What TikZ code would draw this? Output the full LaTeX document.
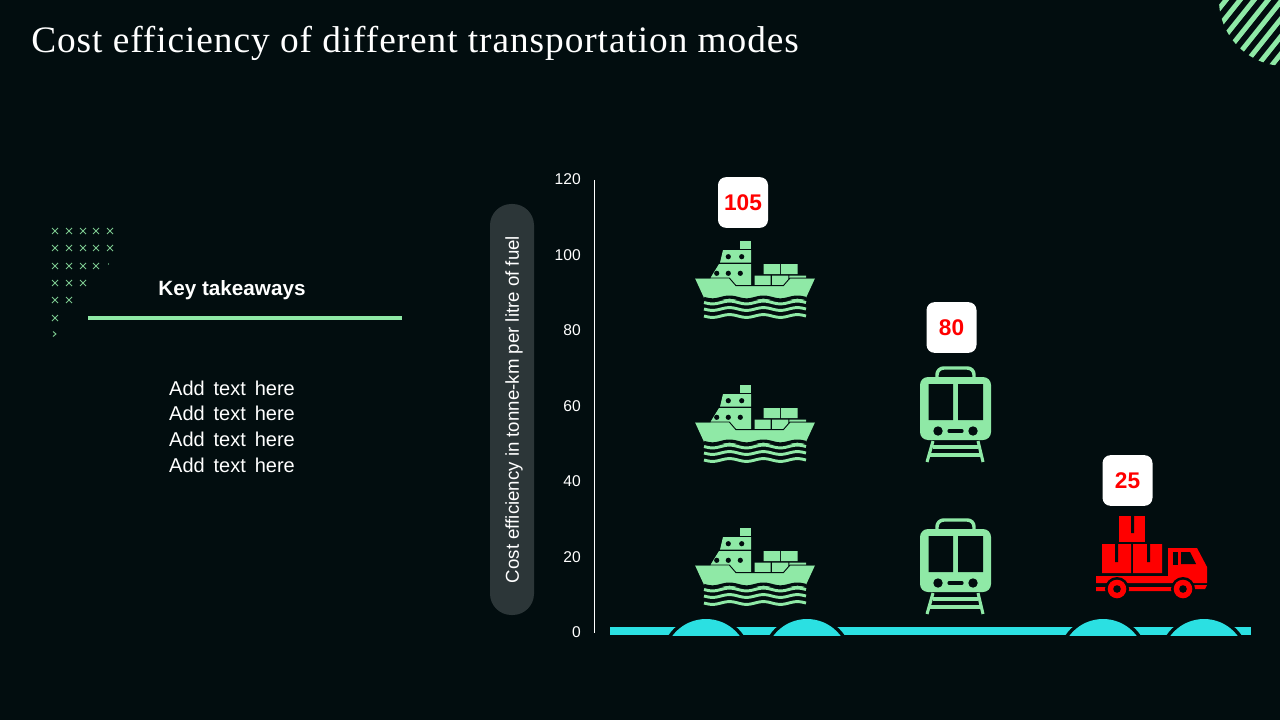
\documentclass[tikz,border=0pt]{standalone}
\usepackage{fontspec}
\setmainfont{Liberation Sans}
\newfontfamily\titlefont[LetterSpace=2.5]{Liberation Serif}
\newfontfamily\addfont[WordSpace=1.6]{Liberation Sans}
\usetikzlibrary{calc}
\definecolor{bgdark}{HTML}{020D0F}
\definecolor{mint}{HTML}{8FE9A6}
\definecolor{pillgrey}{HTML}{2C3638}
\definecolor{bandcyan}{HTML}{2BE0E2}
\definecolor{truckred}{HTML}{FF0000}
\tikzset{
	ticklabel/.style={anchor=east, text=white, font=\fontsize{11.7}{14}\selectfont, inner sep=0pt},
	valuebox/.style={fill=white, rounded corners=6, minimum width=37.5, minimum height=38, inner sep=0pt, text=truckred, font=\bfseries\fontsize{17}{20}\selectfont},
	addtext/.style={text=white, font=\addfont\fontsize{15}{18}\selectfont, inner sep=0pt},
	crossmark/.style={draw=mint!85!black, line width=0.7},
}
\def\waveline[#1](#2){\draw[#1] plot[domain=704:806, samples=50, smooth] (\x, {#2+1.4*sin(10.6*(\x-704))});}
\def\shipicon(#1){
	\begin{scope}[shift={(0,#1)}]
		\fill[mint] (739.5,241) rectangle (751,249);
		\fill[mint] (723,250) -- (751,250) -- (751,262.7) -- (720,262.7) -- cycle;
		\fill[mint] (719,264) -- (751,264) -- (751,286) -- (708,286) -- (711,277) -- cycle;
		\fill[bgdark] (728.3,256.7) circle (2.6) (741.7,256.7) circle (2.6);
		\fill[bgdark] (716.7,273.3) circle (2.6) (728.3,273.3) circle (2.6) (740.3,273.3) circle (2.6);
		\fill[mint] (763.5,264) rectangle (780,274) (781,264) rectangle (797.5,274);
		\fill[mint] (754.7,275.5) rectangle (770.7,286) (772,275.5) rectangle (788.3,286) (789.3,275.5) rectangle (806,278);
		\fill[mint] (695,278.3) -- (729.3,278.3) -- (736,285.7) -- (783.3,285.7) -- (790,278.3) -- (815,278.3) -- (805,300) -- (705,300) -- cycle;
		\draw[bgdark, line width=0.7] (695,278) -- (729.3,278) -- (736,285.7) -- (783.3,285.7) -- (790,278) -- (815,278);
		\waveline[bgdark, line width=2.4](298.5)
		\waveline[mint, line width=2.2](302.5)
		\waveline[mint, line width=2.2](309)
		\waveline[mint, line width=2.2](316)
	\end{scope}
}
\def\trainicon(#1){
	\begin{scope}[shift={(0,#1)}]
		\draw[mint, line width=2.6, rounded corners=5] (937,378) -- (937,368) -- (974,368) -- (974,378);
		\fill[mint, rounded corners=6] (920,377) rectangle (991,440);
		\fill[bgdark] (928.5,384) rectangle (953,420) (958,384) rectangle (983,420);
		\fill[bgdark] (938,431) circle (4.7) (973,431) circle (4.7);
		\draw[bgdark, line width=2.4, line cap=round] (949,431) -- (962,431);
		\draw[mint, line width=2.3] (933,441) -- (927,462) (978,441) -- (983,462);
		\draw[mint, line width=2.3] (933,447) -- (978,447) (930,455) -- (981,455);
	\end{scope}
}

\begin{document}
\begin{tikzpicture}[x=0.75pt, y=-0.75pt]
	%%%%% START %%%%%
	\useasboundingbox (0,0) rectangle (1280,720);
	\fill[bgdark] (0,0) rectangle (1280,720);

	\node[anchor=base west, inner sep=0pt, text=white, font=\titlefont\fontsize{28}{30}\selectfont] (title) at (31,53) {Cost efficiency of different transportation modes};

	% corner stripes
	\begin{scope}
		\clip (1285,0) circle (66);
		\foreach \k in {0,...,9}
			\draw[mint, line width=3.7] ({1226+14*\k+20},-25) -- ({1226+14*\k-60},75);
	\end{scope}

	% grid of crosses
	\foreach \y/\n in {231/5, 248/5, 266/4, 283/3, 300/2, 318/1} {
		\foreach \x [count=\i] in {55,69,83,96,110} {
			\ifnum\i>\n\else
				\draw[crossmark] (\x-3,\y-3) -- (\x+3,\y+3) (\x-3,\y+3) -- (\x+3,\y-3);
			\fi
		}
	}
	\fill[mint] (108.5,264) circle (0.6);
	\draw[crossmark] (53,331.5) -- (56,334) -- (53,336.5);

	\node[text=white, inner sep=0pt, font=\bfseries\fontsize{15.5}{18}\selectfont] (keytitle) at (232,290.5) {Key takeaways};
	\draw[mint, line width=2.6] (88,318) -- (402,318);
	\node[addtext] (add1) at (232,388) {Add text here};
	\node[addtext] (add2) at (232,413) {Add text here};
	\node[addtext] (add3) at (232,439) {Add text here};
	\node[addtext] (add4) at (232,465) {Add text here};

	\fill[pillgrey, rounded corners=16] (490,204) rectangle (534,615);
	\node[rotate=90, text=white, inner sep=0pt, font=\fontsize{14}{16}\selectfont] (axistitle) at (514,409.5) {Cost efficiency in tonne-km per litre of fuel};

	\draw[white, line width=0.8] (594.5,180) -- (594.5,633);
	\node[ticklabel] (t120) at (581,179.5) {120};
	\node[ticklabel] (t100) at (581,255.5) {100};
	\node[ticklabel] (t80) at (581,330.5) {80};
	\node[ticklabel] (t60) at (581,406.5) {60};
	\node[ticklabel] (t40) at (581,481.5) {40};
	\node[ticklabel] (t20) at (581,557.5) {20};
	\node[ticklabel] (t0) at (581,632.5) {0};

	\shipicon(0)
	\shipicon(144)
	\shipicon(287)
	\trainicon(0)
	\trainicon(152)

	% truck
	\fill[truckred] (1119,516) rectangle (1145,542);
	\fill[truckred] (1102,544) rectangle (1131,573) (1133,544) rectangle (1162,573);
	\fill[bgdark] (1131,516) rectangle (1134,533) (1115,544) rectangle (1118,562) (1147,544) rectangle (1150,562);
	\fill[truckred] (1096,576) -- (1168,576) -- (1168,548) -- (1197,548) -- (1207,567) -- (1207,583) -- (1096,583) -- cycle;
	\fill[bgdark] (1173,552) rectangle (1178,565);
	\fill[bgdark] (1181,552) -- (1190,552) -- (1196,564) -- (1181,564) -- cycle;
	\fill[truckred] (1096,587) rectangle (1107,591) (1128,587) rectangle (1172,591) (1193,585) -- (1207,585) -- (1205,589) -- (1193,589) -- cycle;
	\fill[bgdark] (1117,589) circle (12) (1183,589) circle (12);
	\fill[truckred] (1117,589) circle (9.3) (1183,589) circle (9.3);
	\fill[bgdark] (1117,589) circle (3.8) (1183,589) circle (3.8);

	\node[valuebox] (val105) at (743,202.5) {105};
	\node[valuebox] (val80) at (951.5,327.5) {80};
	\node[valuebox] (val25) at (1127.5,480.5) {25};

	% ground band
	\begin{scope}
		\clip (600,610) rectangle (1260,635);
		\fill[bandcyan] (610,627) rectangle (1251,635);
		\foreach \x in {706,807,1103,1204} {
			\fill[bgdark] (\x,661) circle (45.5);
			\fill[bandcyan] (\x,661) circle (42);
		}
	\end{scope}
	%%%%% END %%%%%
\end{tikzpicture}
\end{document}
